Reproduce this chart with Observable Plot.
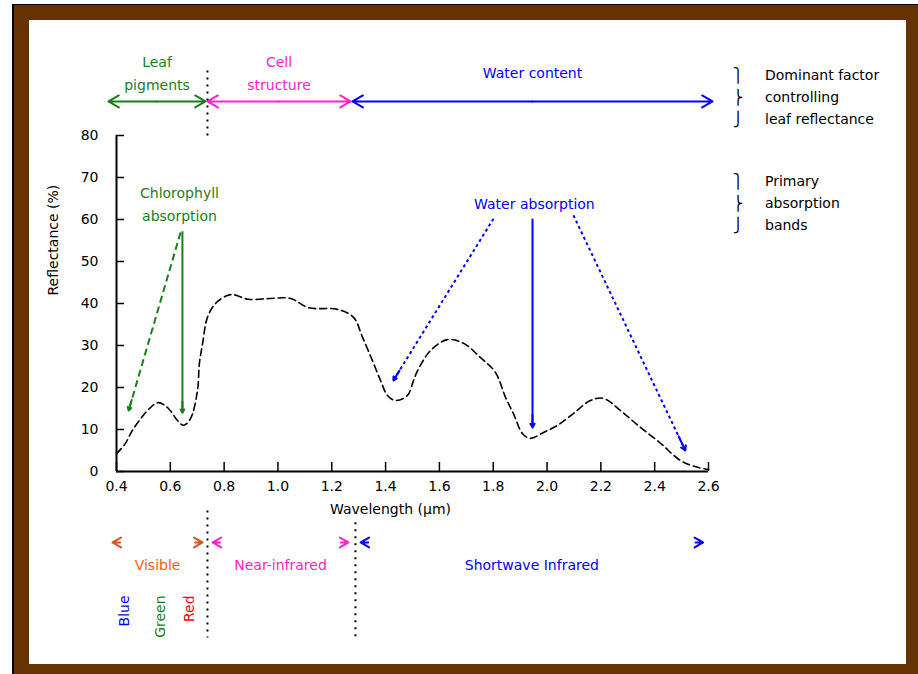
<!DOCTYPE html>
<html><head><meta charset="utf-8">
<script src="https://cdn.jsdelivr.net/npm/d3@7"></script>
<script src="https://cdn.jsdelivr.net/npm/@observablehq/plot@0.6"></script>
<style>
body{margin:0;background:#fff;}
#wrap{position:relative;width:918px;height:674px;overflow:hidden;}
#outer{position:absolute;left:12px;top:4px;width:906px;height:670px;background:#663300;border-left:2px solid #000;border-top:1px solid #000;box-sizing:border-box;}
#inner{position:absolute;left:29px;top:20px;width:877px;height:644px;background:#fff;}
#chart{position:absolute;left:0;top:0;}
</style></head><body>
<div id="wrap"><div id="outer"></div><div id="inner"></div><div id="chart"></div></div>
<script>
// ---- data ----
const wavelength = [0.40,0.433,0.463,0.526,0.556,0.593,0.627,0.649,0.675,0.701,
  0.708,0.72,0.738,0.768,0.812,0.835,0.89,0.972,1.047,1.113,
  1.221,1.281,1.314,1.351,1.381,1.407,1.437,1.481,1.504,1.519,
  1.567,1.63,1.69,1.753,1.808,1.846,1.875,1.909,1.938,1.987,
  2.039,2.098,2.161,2.21,2.273,2.347,2.422,2.496,2.559,2.6];
const reflectance = [4.2,6.7,10.2,15.2,16.4,15,12.1,11,12.6,19.3,
  25.7,30.5,36.7,40,41.9,42.1,41,41.2,41.2,39,
  38.6,36.7,32,26.4,21.7,18.1,16.9,18.1,21.7,24,
  28.8,31.4,30.5,27.1,23.6,17.6,13.8,9,7.9,9.3,
  11,13.8,16.9,17.4,14.5,10.5,6.7,2.6,1,0.5];
const xTicks = [0.4,0.6,0.8,1.0,1.2,1.4,1.6,1.8,2.0,2.2,2.4,2.6];
const yTicks = [0,10,20,30,40,50,60,70,80];

const factorLabels = ["Leaf\npigments","Cell\nstructure","Water content"];
const factorStart = [0.37,0.738,1.277];
const factorEnd = [0.731,1.27,2.615];

const bandLabels = ["Visible","Near-infrared","Shortwave Infrared"];
const bandStart = [0.385,0.757,1.307];
const bandEnd = [0.72,1.262,2.58];

const colorLabels = ["Blue","Green","Red"];
const colorWavelength = [0.43,0.563,0.671];

const regionBoundaries = [0.738,1.288];

const absorptionLabels = ["Chlorophyll\nabsorption","Water absorption"];
const absorptionLabelX = [0.634,1.953];
const absorptionArrowGroup = [0,0,1,1,1];
const absorptionFromX = [0.645,0.638,1.946,1.801,2.098];
const absorptionFromY = [57.2,56.9,60.2,60.2,61];
const absorptionToX = [0.645,0.445,1.946,1.429,2.514];
const absorptionToY = [14,14.5,10.5,21.7,5];
const absorptionSolid = [true,false,true,false,false];

const legendBraceGlyphs = ["⎫","⎬","⎭"];
const legendFactorLines = ["Dominant factor","controlling","leaf reflectance"];
const legendAbsorbLines = ["Primary","absorption","bands"];

// ---- layout / style ----
const font = "DejaVu Sans, sans-serif";
const green = "#1a7f1a", pink = "#ff22cc", blue = "#0000ff", orange = "#ff5a14", orangeDark = "#d9531e", red = "#ff0000";
const factorColors = [green, pink, blue];
const bandTextColors = [orange, pink, blue];
const bandHeadColors = [orangeDark, pink, blue];
const colorColors = [blue, green, red];
const absorptionColors = [green, blue];

const TOP_LABEL_Y = 95.4, TOP_ARROW_Y = 88.1;
const BAND_ARROW_Y = -16.9, BAND_LABEL_Y = -22.4, COLOR_LABEL_Y = -29.5;
const LEGEND_BRACE_X = 2.71, LEGEND_TEXT_X = 2.81;
const legendFactorY = [94.3,89,83.8], legendAbsorbY = [69,63.8,58.6];

const curve = wavelength.map((w,i)=>({w, r: reflectance[i]}));
const factors = factorLabels.map((label,i)=>({label, x1: factorStart[i], x2: factorEnd[i], mid: (factorStart[i]+factorEnd[i])/2, color: factorColors[i]}));
const factorArrows = factors.flatMap(f => [{x1: f.mid, x2: f.x1, color: f.color},{x1: f.mid, x2: f.x2, color: f.color}]);
const bands = bandLabels.map((label,i)=>({label, x1: bandStart[i], x2: bandEnd[i], mid: (bandStart[i]+bandEnd[i])/2, color: bandTextColors[i], head: bandHeadColors[i]}));
const bandHeads = bands.flatMap(b => [{x1: b.x1+0.11, x2: b.x1, color: b.head},{x1: b.x2-0.11, x2: b.x2, color: b.head}]);
const colorsTxt = colorLabels.map((label,i)=>({label, x: colorWavelength[i], color: colorColors[i]}));
const absArrows = absorptionFromX.map((x1,i)=>({x1, y1: absorptionFromY[i], x2: absorptionToX[i], y2: absorptionToY[i], solid: absorptionSolid[i], group: absorptionArrowGroup[i], color: absorptionColors[absorptionArrowGroup[i]]}));
const absHeads = absArrows.map(a => ({x1: a.x2-(a.x2-a.x1)*0.06, y1: a.y2-(a.y2-a.y1)*0.06, x2: a.x2, y2: a.y2, color: a.color}));
const absLabels = absorptionLabels.map((label,i)=>({label, x: absorptionLabelX[i], color: absorptionColors[i]}));
const boundaryTop = [{x: regionBoundaries[0], y1: 80, y2: 96}];
const boundaryBottom = [{x: regionBoundaries[0], y1: -9.3, y2: -39.5},{x: regionBoundaries[1], y1: -12.1, y2: -39.5}];
const braces = [
  ...legendBraceGlyphs.map((t,i)=>({t, y: legendFactorY[i]})),
  ...legendBraceGlyphs.map((t,i)=>({t, y: legendAbsorbY[i]}))
];
const legendText = [
  ...legendFactorLines.map((t,i)=>({t, y: legendFactorY[i]})),
  ...legendAbsorbLines.map((t,i)=>({t, y: legendAbsorbY[i]}))
];

const chart = Plot.plot({
  width: 918, height: 674,
  marginLeft: 116, marginRight: 210, marginTop: 135, marginBottom: 203,
  style: {background: "transparent", fontFamily: font, fontSize: "14px", overflow: "visible"},
  x: {domain: [0.4, 2.6]},
  y: {domain: [0, 80]},
  marks: [
    Plot.axisX({ticks: xTicks, tickFormat: d => d.toFixed(1), tickSize: -9, tickPadding: 19, label: null, fontSize: 14, strokeWidth: 1.5}),
    Plot.axisY({ticks: yTicks, tickSize: -8, tickPadding: 26, label: null, fontSize: 14, strokeWidth: 1.5}),
    Plot.ruleX([0.4], {stroke: "#000", strokeWidth: 2}),
    Plot.ruleY([0], {stroke: "#000", strokeWidth: 2}),
    Plot.text(["Reflectance (%)"], {text: d => d, frameAnchor: "left", dx: -63, dy: -8, rotate: -90, fontSize: 14}),
    Plot.text(["Wavelength (μm)"], {text: d => d, frameAnchor: "bottom", dx: -22, dy: 42, fontSize: 14}),
    Plot.line(curve, {x: "w", y: "r", stroke: "#000", strokeWidth: 1.6, strokeDasharray: "7,4", curve: "catmull-rom"}),
    // top: dominant factor
    Plot.text(factors, {x: "mid", y: TOP_LABEL_Y, text: "label", fill: "color", lineHeight: 1.65, fontSize: 14}),
    Plot.arrow(factorArrows, {x1: "x1", x2: "x2", y1: TOP_ARROW_Y, y2: TOP_ARROW_Y, stroke: "color", strokeWidth: 2, headLength: 9}),
    Plot.link(boundaryTop, {x1: "x", x2: "x", y1: "y1", y2: "y2", stroke: "#000", strokeWidth: 2, strokeDasharray: "2,5"}),
    // bottom: spectral regions (heads only)
    Plot.arrow(bandHeads, {x1: "x1", x2: "x2", y1: BAND_ARROW_Y, y2: BAND_ARROW_Y, stroke: "color", strokeWidth: 2, headLength: 9, insetStart: 22}),
    Plot.text(bands, {x: "mid", y: BAND_LABEL_Y, text: "label", fill: "color", fontSize: 14}),
    Plot.text(colorsTxt, {x: "x", y: COLOR_LABEL_Y, text: "label", fill: "color", rotate: -90, textAnchor: "end", fontSize: 14}),
    Plot.link(boundaryBottom, {x1: "x", x2: "x", y1: "y1", y2: "y2", stroke: "#000", strokeWidth: 2, strokeDasharray: "2,5"}),
    // absorption annotations
    Plot.text(absLabels, {x: "x", y: 64.2, text: "label", fill: "color", lineHeight: 1.7, fontSize: 14}),
    Plot.link(absArrows.filter(d => d.solid), {x1: "x1", y1: "y1", x2: "x2", y2: "y2", stroke: "color", strokeWidth: 2}),
    Plot.link(absArrows.filter(d => !d.solid && d.group === 0), {x1: "x1", y1: "y1", x2: "x2", y2: "y2", stroke: "color", strokeWidth: 2, strokeDasharray: "7,4"}),
    Plot.link(absArrows.filter(d => !d.solid && d.group === 1), {x1: "x1", y1: "y1", x2: "x2", y2: "y2", stroke: "color", strokeWidth: 2, strokeDasharray: "3,3"}),
    Plot.arrow(absHeads, {x1: "x1", y1: "y1", x2: "x2", y2: "y2", stroke: "color", strokeWidth: 2, headLength: 9}),
    // right legend
    Plot.text(braces, {x: LEGEND_BRACE_X, y: "y", text: "t", textAnchor: "middle", fill: "#000", fontSize: 14}),
    Plot.text(legendText, {x: LEGEND_TEXT_X, y: "y", text: "t", textAnchor: "start", fill: "#000", fontSize: 14})
  ]
});
document.getElementById("chart").appendChild(chart);
</script>
</body></html>
